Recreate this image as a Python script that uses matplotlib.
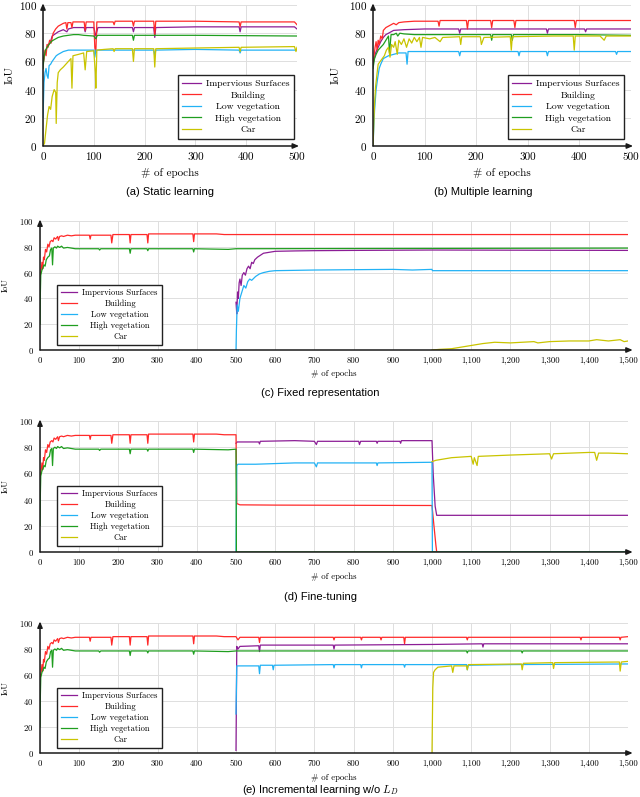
# -*- coding: utf-8 -*-
"""
IoU per class vs epochs for the five training set-ups (a)-(e)
"""
#%% Import libraries
import matplotlib
matplotlib.use("Agg")
import matplotlib.pyplot as plt
from matplotlib.ticker import FuncFormatter, MultipleLocator

plt.rcParams['font.family'] = ['cmr10', 'DejaVu Serif']
plt.rcParams['axes.formatter.use_mathtext'] = True
plt.rcParams['mathtext.fontset'] = 'cm'

#%% Data (epoch, IoU)
labels = ["Impervious Surfaces", "Building", "Low vegetation", "High vegetation", "Car"]
colors = ['#8c1d96', '#ff2a2a', '#22b2f5', '#1f9e1f', '#c9c400']

# (a) Static learning
static_imp = [(0, 58), (3, 65), (6, 68), (10, 72), (14, 73), (18, 78), (22, 79), (30, 81), (40, 82.5), (47, 81),
              (50, 83), (60, 84), (81, 84), (83, 81), (85, 84), (100, 84), (104, 78), (108, 84), (176, 84), (178, 81),
              (180, 84), (218, 84), (220, 77), (222, 84), (300, 84.5), (386, 84.5), (388, 81), (390, 84.5),
              (495, 84.5), (500, 83)]
static_bld = [(0, 58), (2, 62), (4, 68), (6, 64), (8, 72), (10, 70), (13, 75), (16, 73), (20, 80), (25, 83), (30, 85),
              (35, 86), (40, 87), (45, 87.5), (47, 83), (49, 87.5), (55, 87.5), (57, 84), (59, 88), (70, 88), (81, 88),
              (83, 82), (85, 88), (100, 88), (102, 70), (104, 66), (106, 88), (138, 88), (140, 86), (142, 88.5),
              (176, 88.5), (178, 85), (180, 88.5), (218, 88.5), (220, 79), (222, 88.5), (300, 88.5), (386, 88),
              (388, 84.5), (390, 88), (495, 88), (500, 86)]
static_low = [(0, 20), (2, 45), (4, 52), (6, 55), (8, 50), (10, 48), (12, 57), (15, 58), (18, 60), (22, 62), (26, 64),
              (30, 65), (35, 66), (40, 67), (50, 68), (80, 68), (100, 68), (102, 63), (104, 68), (218, 68), (220, 64),
              (222, 68), (300, 68.5), (386, 68), (388, 66), (390, 68), (500, 68)]
static_high = [(0, 55), (2, 63), (5, 68), (8, 70), (12, 72), (16, 74), (20, 75), (25, 76), (30, 77), (40, 78),
               (50, 78.5), (60, 79), (70, 79), (80, 78.5), (100, 78), (104, 76), (107, 78.5), (176, 78.5), (178, 75),
               (180, 78.5), (300, 78.5), (500, 78)]
static_car = [(0, 0), (3, 2), (6, 12), (9, 22), (12, 28), (15, 26), (18, 35), (22, 40), (25, 38), (26, 16), (28, 45),
              (30, 52), (34, 54), (40, 56), (45, 58), (50, 60), (55, 62), (57, 41), (59, 64), (70, 65), (80, 66),
              (83, 54), (86, 67), (100, 67.5), (103, 52), (104, 41), (106, 68), (120, 68.5), (138, 69), (140, 67),
              (142, 69), (176, 69), (178, 60), (180, 69), (218, 69), (220, 56), (222, 69), (300, 69.5), (386, 70),
              (388, 67), (390, 70), (495, 70.5), (498, 67), (500, 70)]

# (b) Multiple learning
multi_imp = [(0, 58), (5, 66), (10, 70), (15, 74), (20, 77), (25, 79), (30, 80), (40, 82), (60, 82.5), (100, 83),
             (166, 83), (168, 80), (170, 83), (336, 83), (338, 80), (340, 83), (410, 83), (412, 81), (414, 83),
             (500, 83)]
multi_bld = [(0, 58), (2, 64), (4, 70), (6, 74), (8, 68), (10, 75), (12, 72), (15, 78), (18, 76), (20, 82), (25, 84),
             (30, 85), (35, 86), (40, 87), (45, 86), (50, 87.5), (60, 88), (80, 88.5), (126, 88.5), (128, 85),
             (130, 89), (181, 89), (183, 83), (185, 89), (228, 89), (230, 84), (232, 89), (273, 89), (275, 84),
             (277, 89), (390, 89), (392, 84), (394, 89), (500, 89)]
multi_low = [(0, 0), (3, 25), (6, 40), (9, 48), (12, 55), (15, 58), (20, 62), (25, 63), (30, 64), (40, 65), (50, 66),
             (64, 66), (66, 58), (68, 67), (166, 67), (168, 64), (170, 67), (281, 67), (283, 64), (285, 67),
             (336, 67), (338, 64), (340, 67), (470, 67), (472, 65), (474, 67), (500, 67)]
multi_high = [(0, 55), (3, 62), (6, 65), (10, 68), (15, 70), (20, 72), (25, 75), (30, 78), (32, 66), (35, 79),
              (40, 79), (45, 80), (48, 78), (52, 80), (60, 79.5), (80, 79), (228, 79), (230, 75), (232, 79),
              (268, 79), (270, 75), (272, 79), (400, 79), (500, 78.5)]
multi_car = [(0, 0), (3, 30), (5, 42), (8, 52), (10, 58), (14, 60), (18, 62), (22, 64), (26, 68), (30, 70), (33, 63),
             (36, 72), (40, 70), (43, 74), (47, 65), (50, 75), (55, 72), (60, 76), (65, 70), (70, 76), (75, 73),
             (80, 77), (85, 74), (90, 77), (93, 70), (96, 77), (110, 76), (120, 77), (130, 74), (135, 77),
             (168, 77.5), (170, 72), (172, 77.5), (208, 77.5), (210, 72), (215, 77), (266, 77.5), (268, 68),
             (270, 77.5), (350, 78), (388, 78), (390, 68), (392, 78), (440, 78), (448, 75), (452, 78), (500, 78)]

# first 500 epochs shared by (c), (d), (e)
first_bld = [(0, 58), (3, 62), (5, 68), (7, 63), (9, 72), (11, 70), (14, 78), (17, 76), (20, 82), (23, 80), (26, 84),
             (30, 85), (33, 84), (36, 87), (40, 86), (45, 88), (47, 85), (50, 88), (55, 88.5), (60, 88), (70, 89),
             (80, 88.5), (90, 89), (126, 89), (128, 86), (130, 89), (181, 89), (183, 83), (186, 89.5), (228, 89.5),
             (230, 83), (232, 89.5), (273, 89.5), (275, 83), (277, 90), (390, 90), (392, 84), (394, 90), (450, 90),
             (470, 89.5), (500, 89.5)]
first_high = [(0, 20), (1, 45), (2, 58), (5, 62), (8, 64), (10, 66), (13, 65), (16, 70), (20, 72), (24, 73),
              (27, 78), (30, 79), (32, 66), (34, 79), (38, 80), (42, 79), (45, 80.5), (50, 79.5), (55, 80.5),
              (60, 79), (70, 79.5), (80, 79), (90, 78.5), (150, 78.5), (152, 77.5), (155, 78.5), (228, 78.5),
              (230, 75), (232, 78.5), (273, 78.5), (275, 77), (277, 78.5), (390, 78.5), (392, 76), (394, 78.5),
              (480, 78), (500, 78.5)]

# (c) Fixed representation
fixed_imp = [(500, 37), (502, 28), (504, 45), (506, 40), (508, 52), (510, 55), (513, 50), (516, 58), (520, 60),
             (524, 58), (528, 63), (532, 65), (536, 63), (540, 68), (544, 67), (548, 70), (555, 72), (560, 73),
             (570, 75), (580, 75.5), (600, 76.5), (650, 76.8), (700, 77), (800, 77.2), (1000, 77.5), (1500, 77.2)]
fixed_bld = first_bld + [(1500, 89.5)]
fixed_low = [(500, 0), (501, 15), (503, 35), (506, 30), (510, 40), (515, 45), (520, 50), (525, 48), (530, 53),
             (535, 55), (540, 54), (550, 57), (560, 59), (570, 60), (585, 61), (600, 61.5), (700, 62), (900, 62.5),
             (950, 62), (1000, 62.5), (1001, 61.5), (1500, 61.5)]
fixed_high = first_high + [(1500, 79)]
fixed_car = [(1000, 0), (1020, 0.5), (1050, 1), (1080, 2.5), (1100, 3.5), (1130, 5), (1160, 6), (1200, 5.5),
             (1230, 6), (1260, 6.5), (1270, 5.5), (1300, 6.5), (1350, 7), (1400, 7), (1420, 8), (1450, 7),
             (1480, 8), (1490, 6.5), (1500, 7)]

# (d) Fine-tuning
fine_imp = [(500, 83), (503, 84), (558, 84), (560, 82.5), (562, 84.5), (650, 85), (700, 84.5), (705, 82),
            (708, 84.5), (813, 84.5), (815, 82), (818, 84.5), (858, 84.5), (860, 83), (862, 84.5), (918, 84.5),
            (920, 83), (922, 85), (1000, 85), (1003, 60), (1008, 35), (1012, 28), (1500, 28)]
fine_bld = first_bld + [(502, 37), (510, 36), (600, 35.8), (1000, 35.5), (1005, 20), (1010, 5), (1012, 0)]
fine_low = [(500, 0), (502, 66), (505, 67), (550, 67), (650, 68), (700, 68), (705, 65), (708, 68), (858, 68),
            (860, 66), (862, 68), (1000, 68.5), (1001, 0), (1500, 0)]
fine_high = first_high + [(501, 0), (1500, 0)]
fine_car = [(1000, 69), (1010, 70), (1030, 71), (1050, 72), (1100, 73), (1105, 67), (1108, 72), (1115, 66),
            (1118, 73), (1200, 74), (1250, 74.5), (1300, 75), (1305, 71), (1310, 75), (1400, 76), (1415, 76),
            (1420, 70), (1425, 75.5), (1450, 75.5), (1500, 75)]

# (e) Incremental learning
incr_imp = [(500, 2), (502, 82), (505, 80), (510, 82), (558, 82.5), (560, 78), (562, 83), (748, 83), (750, 80),
            (752, 83), (1000, 83.5), (1128, 84), (1130, 81.5), (1132, 84), (1500, 84)]
incr_bld = first_bld + [(505, 87), (510, 89), (558, 89), (560, 85), (562, 89), (748, 89), (750, 87), (752, 89),
                        (818, 89), (820, 87), (822, 89), (868, 89), (870, 87), (872, 89), (928, 89), (930, 84),
                        (932, 89), (1088, 89), (1090, 87), (1092, 89), (1378, 89), (1380, 87), (1382, 89),
                        (1478, 89), (1480, 87), (1482, 89), (1500, 89.5)]
incr_low = [(500, 30), (502, 67), (558, 67), (560, 61), (562, 67.5), (593, 67.5), (595, 64), (597, 67.5),
            (748, 68), (750, 65.5), (752, 68), (818, 68), (820, 65.5), (822, 68), (928, 68), (930, 66), (932, 68),
            (1088, 68), (1090, 64), (1092, 67.5), (1200, 68), (1500, 68.5)]
incr_high = first_high + [(1000, 78.5), (1088, 78.5), (1090, 77), (1092, 78.5), (1228, 78.5), (1230, 77),
                          (1232, 78.5), (1500, 78.5)]
incr_car = [(1000, 0), (1002, 50), (1004, 62), (1008, 64), (1015, 66), (1050, 67), (1053, 62), (1056, 67),
            (1088, 67), (1090, 64), (1093, 68), (1228, 68.5), (1230, 64), (1233, 69), (1308, 69.5), (1310, 65),
            (1313, 69.5), (1478, 70), (1480, 63), (1483, 70), (1500, 70.5)]

captions = ["(a) Static learning", "(b) Multiple learning", "(c) Fixed representation", "(d) Fine-tuning",
            r"(e) Incremental learning w/o $L_D$"]

#%% Layout helpers
W, H = 640, 797


def AddAxes(fig, x0, y0, x1, y1):
    """Axes from pixel box (top-left origin)"""
    return fig.add_axes([x0 / W, 1 - y1 / H, (x1 - x0) / W, (y1 - y0) / H])


def DrawPanel(ax, series, xmax, tick_fs, leg_fs, leg_anchor, ylab_x, labspace):
    for pts, col, lab in zip(series, colors, labels):
        ax.plot([p[0] for p in pts], [p[1] for p in pts], color=col, lw=0.9, label=lab)
    ax.set_xlim(0, xmax)
    ax.set_ylim(0, 100)
    ax.xaxis.set_major_locator(MultipleLocator(100))
    ax.yaxis.set_major_locator(MultipleLocator(20))
    ax.xaxis.set_major_formatter(FuncFormatter(lambda v, p: f"{int(v):,}"))
    ax.grid(True, color='#dedede', lw=0.7)
    ax.set_axisbelow(True)
    for s in ax.spines.values():
        s.set_visible(False)
    ax.tick_params(length=0, labelsize=tick_fs, pad=4.5)
    # pgfplots style axis arrows
    arrow = dict(arrowstyle='-|>,head_length=0.35,head_width=0.15', lw=1.1, color='#1a1a1a',
                 shrinkA=0, shrinkB=0)
    ax.annotate('', xy=(0, 1.012), xytext=(0, 0), xycoords='axes fraction', arrowprops=arrow,
                annotation_clip=False)
    ax.annotate('', xy=(1.008, 0), xytext=(0, 0), xycoords='axes fraction', arrowprops=arrow,
                annotation_clip=False)
    ax.set_xlabel('# of epochs', fontsize=tick_fs)
    ax.set_ylabel('IoU', fontsize=tick_fs)
    ax.xaxis.set_label_coords(0.5, -0.155)
    ax.yaxis.set_label_coords(ylab_x, 0.5)
    leg = ax.legend(loc='upper left', bbox_to_anchor=leg_anchor, borderaxespad=0, fontsize=leg_fs,
                    fancybox=False, framealpha=1, edgecolor='#222222', handlelength=1.9,
                    labelspacing=labspace, borderpad=0.45, handletextpad=0.6)
    leg.get_frame().set_linewidth(1.0)
    return leg


def CenterLegend(fig, legs):
    """Center the legend texts like pgfplots does"""
    fig.canvas.draw()
    r = fig.canvas.get_renderer()
    for leg in legs:
        ws = [t.get_window_extent(r).width for t in leg.get_texts()]
        for t, w in zip(leg.get_texts(), ws):
            t.set_x((max(ws) - w) / 2)


#%% Figure
fig = plt.figure(figsize=(6.4, 7.97), dpi=100)

axA = AddAxes(fig, 43, 5, 297, 146)
axB = AddAxes(fig, 373, 5, 631, 146)
axC = AddAxes(fig, 40, 221, 628, 350)
axD = AddAxes(fig, 40, 421, 628, 552)
axE = AddAxes(fig, 40, 623, 628, 753)

legs = []
legs.append(DrawPanel(axA, [static_imp, static_bld, static_low, static_high, static_car], 500, 8, 6.9,
                      ((178 - 43) / 254, (146 - 75) / 141), -0.112, 0.3))
legs.append(DrawPanel(axB, [multi_imp, multi_bld, multi_low, multi_high, multi_car], 500, 8, 6.9,
                      ((508 - 373) / 258, (146 - 75) / 141), -0.125, 0.3))
legs.append(DrawPanel(axC, [fixed_imp, fixed_bld, fixed_low, fixed_high, fixed_car], 1500, 6.3, 6.2,
                      ((57 - 40) / 588, (350 - 285) / 129), -0.052, 0.3))
legs.append(DrawPanel(axD, [fine_imp, fine_bld, fine_low, fine_high, fine_car], 1500, 6.3, 6.2,
                      ((57 - 40) / 588, (552 - 486) / 131), -0.052, 0.3))
legs.append(DrawPanel(axE, [incr_imp, incr_bld, incr_low, incr_high, incr_car], 1500, 6.3, 6.2,
                      ((57 - 40) / 588, (753 - 688) / 130), -0.052, 0.3))

# captions below each panel
cap_pos = [(170, 192), (483, 192), (320, 393), (320, 597), (320, 790)]
for txt, (cx, cy) in zip(captions, cap_pos):
    fig.text(cx / W, 1 - cy / H, txt, ha='center', va='center', fontsize=8,
             family=['Liberation Sans', 'DejaVu Sans'])

CenterLegend(fig, legs)
fig.savefig('out.png', dpi=100)
